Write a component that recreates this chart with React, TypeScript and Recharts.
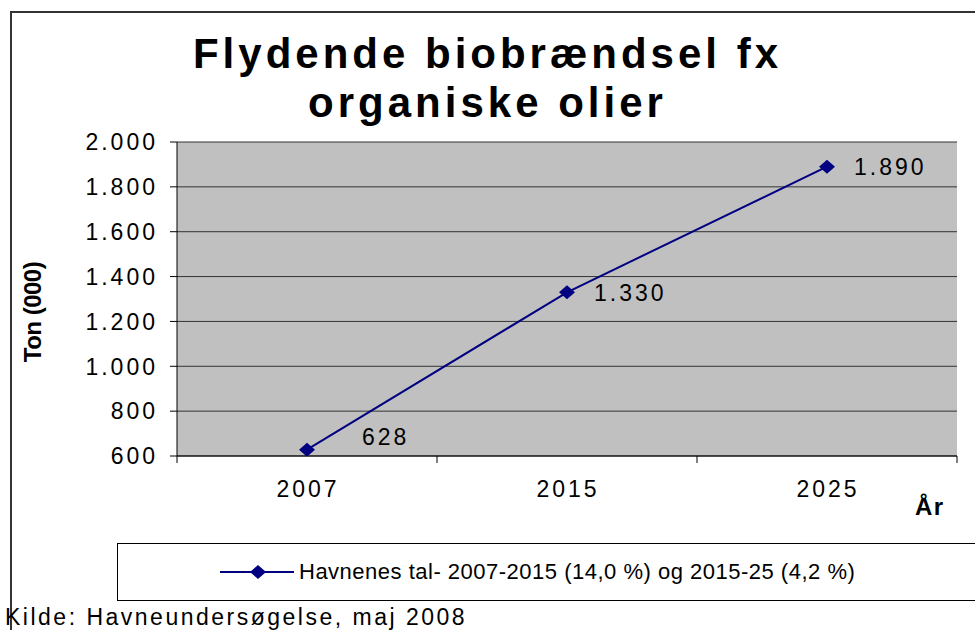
import { CartesianGrid, LabelList, Legend, Line, LineChart, XAxis, YAxis } from 'recharts';

const years = ['2007', '2015', '2025'];
const tons = [628, 1330, 1890];
const yTicks = [600, 800, 1000, 1200, 1400, 1600, 1800, 2000];
const seriesName = 'Havnenes tal- 2007-2015 (14,0 %) og 2015-25 (4,2 %)';

const data = years.map((year, i) => ({ year, tons: tons[i] }));

const FONT = '"Liberation Sans", Arial, sans-serif';
const NAVY = '#000080';
// half the width of one category band (780px plot / 3 categories)
const BAND_HALF = 130;

function dotted(v: number) {
  return String(v).replace(/\B(?=(\d{3})+(?!\d))/g, '.');
}

function Diamond(props: any) {
  const { cx, cy } = props;
  if (cx == null || cy == null) return null;
  return (
    <polygon
      points={`${cx - 8},${cy} ${cx},${cy - 7} ${cx + 8},${cy} ${cx},${cy + 7}`}
      fill={NAVY}
    />
  );
}

function YearTick(props: any) {
  const { x, y, payload, index } = props;
  return (
    <g>
      <line x1={x - BAND_HALF} x2={x - BAND_HALF} y1={y} y2={y + 7} stroke="#000" />
      {index === years.length - 1 && (
        <line x1={x + BAND_HALF} x2={x + BAND_HALF} y1={y} y2={y + 7} stroke="#000" />
      )}
      <text x={x + 1} y={y + 41} textAnchor="middle" fontSize={23} fill="#000" fontFamily={FONT} style={{ letterSpacing: '3px' }}>
        {payload.value}
      </text>
    </g>
  );
}

function TonTick(props: any) {
  const { x, y, payload } = props;
  return (
    <text x={x - 12} y={y} dy="0.36em" textAnchor="end" fontSize={23} fill="#000" fontFamily={FONT} style={{ letterSpacing: '3px' }}>
      {dotted(payload.value)}
    </text>
  );
}

function ValueLabel(props: any) {
  const { x, y, value, index } = props;
  const lift = index === 0 ? 13 : 0;
  const dx = index === 0 ? 55 : 27;
  return (
    <text x={x + dx} y={y - lift} dy="0.36em" fontSize={23} fill="#000" fontFamily={FONT} style={{ letterSpacing: '3px' }}>
      {dotted(value)}
    </text>
  );
}

function LegendBox(props: any) {
  const item = (props.payload || [])[0];
  return (
    <div style={{ width: 870, height: 58, border: '1px solid #000', boxSizing: 'border-box', position: 'relative', background: '#fff' }}>
      <svg width={200} height={58} style={{ position: 'absolute', left: 0, top: 0 }}>
        <line x1={102} x2={176} y1={28} y2={28} stroke={NAVY} strokeWidth={2} />
        <polygon points="132,28 140,21 148,28 140,35" fill={NAVY} />
      </svg>
      <div style={{ position: 'absolute', left: 181, top: 16, fontFamily: FONT, fontSize: 22, lineHeight: '24px', letterSpacing: '0.5px', whiteSpace: 'nowrap', color: '#000' }}>
        {item ? item.value : seriesName}
      </div>
    </div>
  );
}

export default function App() {
  return (
    <div style={{ position: 'absolute', left: 0, top: 0, width: 975, height: 630, background: '#fff', overflow: 'hidden', fontFamily: FONT }}>
      <div style={{ position: 'absolute', left: 10, top: 11, width: 980, height: 640, borderTop: '2px solid #333', borderLeft: '2px solid #333' }} />
      <div style={{ position: 'absolute', left: 0, top: 29, width: 975, textAlign: 'center', fontSize: 42, lineHeight: '49px', fontWeight: 700, letterSpacing: '4px', color: '#000' }}>
        Flydende biobrændsel fx
        <br />
        organiske olier
      </div>
      <LineChart
        width={975}
        height={630}
        data={data}
        margin={{ top: 142, right: 18, bottom: 0, left: 0 }}
        style={{ position: 'absolute', left: 0, top: 0 }}
      >
        <CartesianGrid vertical={false} stroke="#333" fill="#C0C0C0" fillOpacity={1} />
        <XAxis
          dataKey="year"
          height={174}
          padding={{ left: BAND_HALF, right: BAND_HALF }}
          tickLine={false}
          tickSize={0}
          tickMargin={0}
          axisLine={{ stroke: '#000' }}
          tick={<YearTick />}
          interval={0}
        />
        <YAxis
          width={177}
          domain={[600, 2000]}
          ticks={yTicks}
          allowDataOverflow
          tickSize={7}
          tickMargin={0}
          axisLine={{ stroke: '#000' }}
          tickLine={{ stroke: '#000' }}
          tick={<TonTick />}
          label={{
            content: () => (
              <text
                x={0}
                y={0}
                transform="translate(41,312) rotate(-90)"
                textAnchor="middle"
                fontSize={24}
                fontWeight={700}
                fontFamily={FONT}
                fill="#000"
                style={{ letterSpacing: '-0.5px' }}
              >
                Ton (000)
              </text>
            ),
          }}
        />
        <YAxis yAxisId="frame" orientation="right" width={0} tick={false} tickLine={false} axisLine={{ stroke: '#808080', strokeWidth: 2 }} />
        <Legend
          layout="horizontal"
          verticalAlign="middle"
          align="center"
          width={870}
          wrapperStyle={{ left: 117, top: 543, width: 870, height: 58 }}
          content={<LegendBox />}
        />
        <Line
          type="linear"
          dataKey="tons"
          name={seriesName}
          stroke={NAVY}
          strokeWidth={2}
          dot={<Diamond />}
          activeDot={false}
          isAnimationActive={false}
        >
          <LabelList dataKey="tons" content={<ValueLabel />} />
        </Line>
      </LineChart>
      <div style={{ position: 'absolute', left: 915, top: 493, fontSize: 24, fontWeight: 700, letterSpacing: '1.5px', lineHeight: '28px', color: '#000' }}>
        År
      </div>
      <div style={{ position: 'absolute', left: 5, top: 604, fontSize: 23, letterSpacing: '2.5px', lineHeight: '26px', whiteSpace: 'nowrap', color: '#000' }}>
        Kilde: Havneundersøgelse, maj 2008
      </div>
    </div>
  );
}
